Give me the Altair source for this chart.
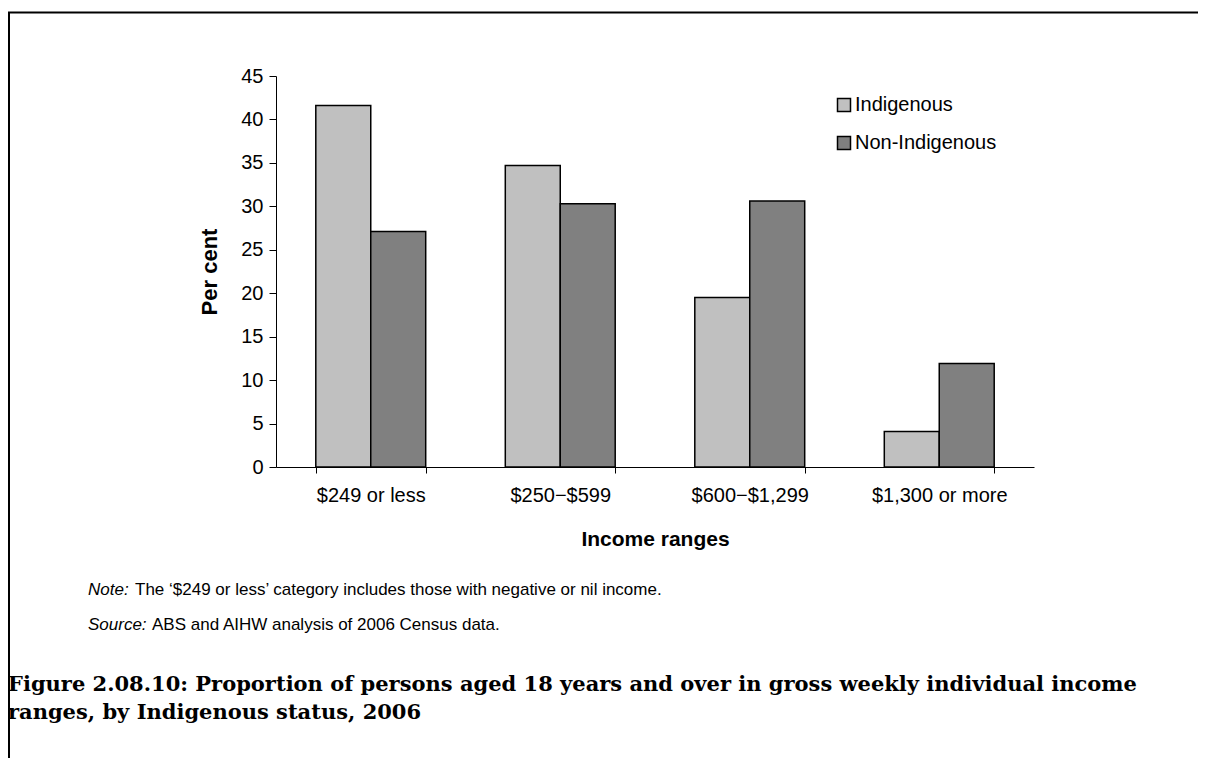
import altair as alt
import pandas as pd

categories = ["$249 or less", "$250\u2212$599", "$600\u2212$1,299", "$1,300 or more"]
groups = ["Indigenous", "Non-Indigenous"]
indigenous = [41.6, 34.7, 19.5, 4.1]
non_indigenous = [27.1, 30.3, 30.6, 11.9]
y_ticks = [0, 5, 10, 15, 20, 25, 30, 35, 40, 45]

rows = []
for c, a, b in zip(categories, indigenous, non_indigenous):
    rows.append({"range": c, "status": groups[0], "pct": a})
    rows.append({"range": c, "status": groups[1], "pct": b})
df = pd.DataFrame(rows)

FONT = "Liberation Sans"
SERIF = "DejaVu Serif"
PL, PT = 268, 68
W, H = 758, 391
TOTAL_W, TOTAL_H = 1190, 750
PR = TOTAL_W - PL - W
PB = TOTAL_H - PT - H

bars = alt.Chart(df).mark_bar(stroke="black", strokeWidth=1.5).encode(
    x=alt.X(
        "range:N", sort=categories, title="Income ranges",
        scale=alt.Scale(paddingInner=0.42, paddingOuter=0.21),
        axis=alt.Axis(
            labelAngle=0, tickBand="extent", labelFont=FONT, labelFontSize=20,
            labelColor="black", labelPadding=12, tickSize=6, tickColor="black",
            domainColor="black", titleFont=FONT, titleFontSize=21,
            titleFontWeight="bold", titleColor="black", titlePadding=23,
        ),
    ),
    xOffset=alt.XOffset("status:N", sort=groups),
    y=alt.Y(
        "pct:Q", title="Per cent",
        scale=alt.Scale(domain=[0, 45], nice=False),
        axis=alt.Axis(
            values=y_ticks, grid=False, labelFont=FONT, labelFontSize=20,
            labelColor="black", labelPadding=6, tickSize=7, tickColor="black",
            domainColor="black", titleFont=FONT, titleFontSize=22,
            titleFontWeight="bold", titleColor="black", titlePadding=19,
        ),
    ),
    color=alt.Color(
        "status:N",
        scale=alt.Scale(domain=groups, range=["#c0c0c0", "#808080"]),
        legend=alt.Legend(
            title=None, orient="none", legendX=558, legendY=19,
            symbolType="square", symbolSize=169, symbolStrokeColor="black",
            symbolStrokeWidth=1.5, labelFont=FONT, labelFontSize=20,
            labelColor="black", labelOffset=1, rowPadding=18, padding=0,
        ),
    ),
)

one = pd.DataFrame({"k": [0]})

def txt(s, x, y, size, font=FONT, style="normal", weight="normal"):
    return alt.Chart(one).mark_text(
        text=s, align="left", baseline="alphabetic", font=font,
        fontSize=size, fontStyle=style, fontWeight=weight, color="black",
    ).encode(x=alt.value(x), y=alt.value(y))

note_size = 17
texts = [
    txt("Note:", -188, 519, note_size, style="italic"),
    txt("The \u2018$249 or less\u2019 category includes those with negative or nil income.", -141, 519, note_size),
    txt("Source:", -188, 554, note_size, style="italic"),
    txt("ABS and AIHW analysis of 2006 Census data.", -124, 554, note_size),
    txt("Figure 2.08.10: Proportion of persons aged 18 years and over in gross weekly individual income",
        -268, 615, 21, font=SERIF, weight="bold"),
    txt("ranges, by Indigenous status, 2006", -268, 643, 21, font=SERIF, weight="bold"),
]

top_line = alt.Chart(one).mark_rule(color="black", strokeWidth=2).encode(
    x=alt.value(-268), x2=alt.value(TOTAL_W - PL), y=alt.value(-63.5))
left_line = alt.Chart(one).mark_rule(color="black", strokeWidth=2).encode(
    x=alt.value(-267), y=alt.value(-64), y2=alt.value(TOTAL_H - PT))

chart = alt.layer(bars, *texts, top_line, left_line).properties(
    width=W, height=H, background="white",
    padding={"left": PL, "top": PT, "right": PR, "bottom": PB},
    autosize=alt.AutoSizeParams(type="none"),
).configure_view(stroke=None)

chart.save("out.html", embed_options={"renderer": "svg", "actions": False})
